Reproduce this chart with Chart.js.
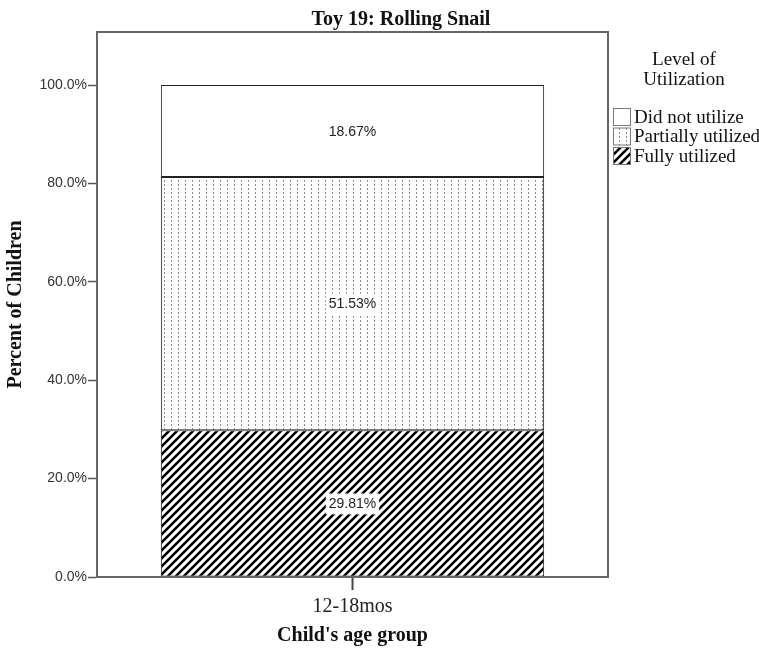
<!DOCTYPE html>
<html>
<head>
<meta charset="utf-8">
<script src="https://cdn.jsdelivr.net/npm/chart.js@4/dist/chart.umd.min.js"></script>
<style>
	html, body { margin: 0; padding: 0; background: #fff; }
	#wrap { width: 759px; height: 648px; }
</style>
</head>
<body>
<div id="wrap"><canvas id="chart" width="759" height="648"></canvas></div>
<script>
// chart values
const categories = ['12-18mos'];
const seriesLabels = ['Fully utilized', 'Partially utilized', 'Did not utilize'];
const fullyValues = [29.81];
const partialValues = [51.53];
const notValues = [18.67];
const yTickValues = [0, 20, 40, 60, 80, 100];
const chartTitle = 'Toy 19: Rolling Snail';
const legendTitle = ['Level of', 'Utilization'];

const serif = '"Liberation Serif", "DejaVu Serif", serif';
const sans = '"Liberation Sans", Arial, sans-serif';

const canvas = document.getElementById('chart');
const ctx = canvas.getContext('2d');

// diagonal hatch for "Fully utilized"
function hatchPattern () {
	const c = document.createElement('canvas');
	c.width = 8;
	c.height = 8;
	const x = c.getContext('2d');
	x.fillStyle = '#fff';
	x.fillRect(0, 0, 8, 8);
	x.strokeStyle = '#000';
	x.lineWidth = 2.6;
	x.beginPath();
	x.moveTo(-2, 10); x.lineTo(10, -2);
	x.moveTo(-6, 6); x.lineTo(6, -6);
	x.moveTo(2, 14); x.lineTo(14, 2);
	x.stroke();
	return ctx.createPattern(c, 'repeat');
}

// columns of little dashes for "Partially utilized"
function dotPattern () {
	const c = document.createElement('canvas');
	c.width = 7;
	c.height = 4;
	const x = c.getContext('2d');
	x.fillStyle = '#fff';
	x.fillRect(0, 0, 7, 4);
	x.fillStyle = '#8a8a8a';
	x.fillRect(3, 0, 1, 2);
	return ctx.createPattern(c, 'repeat');
}

const fills = [hatchPattern(), dotPattern(), '#ffffff'];

const frame = {
	id: 'frame',
	afterDraw (chart) {
		const a = chart.chartArea;
		const c = chart.ctx;
		c.save();
		c.strokeStyle = '#666';
		c.lineWidth = 2;
		c.strokeRect(a.left, a.top, a.right - a.left, a.bottom - a.top);
		// title sits a little right of the plot centre, as in the source
		c.fillStyle = '#111';
		c.font = 'bold 20px ' + serif;
		c.textAlign = 'center';
		c.textBaseline = 'middle';
		c.fillText(chartTitle, 401, 20);
		c.restore();
	}
};

const segmentLabels = {
	id: 'segmentLabels',
	afterDatasetsDraw (chart) {
		const c = chart.ctx;
		c.save();
		c.font = '14px ' + sans;
		c.textAlign = 'center';
		c.textBaseline = 'middle';
		chart.data.datasets.forEach((ds, i) => {
			const meta = chart.getDatasetMeta(i);
			meta.data.forEach((el, j) => {
				const p = el.getProps(['x', 'y', 'base'], true);
				const cy = (p.y + p.base) / 2;
				const text = ds.data[j].toFixed(2) + '%';
				const w = c.measureText(text).width;
				c.fillStyle = '#fff';
				c.fillRect(p.x - w / 2 - 3, cy - 10, w + 6, 21);
				c.fillStyle = '#222';
				c.fillText(text, p.x, cy + 1);
			});
		});
		c.restore();
	}
};

const sideLegend = {
	id: 'sideLegend',
	afterDraw (chart) {
		const c = chart.ctx;
		const x0 = chart.chartArea.right + 5;
		c.save();
		c.fillStyle = '#111';
		c.font = '19px ' + serif;
		c.textAlign = 'center';
		c.textBaseline = 'middle';
		legendTitle.forEach((t, i) => c.fillText(t, 684, 60 + i * 20));
		c.textAlign = 'left';
		const items = chart.data.datasets.slice().reverse();
		items.forEach((ds, i) => {
			const y = 108 + i * 19.5;
			c.fillStyle = ds.backgroundColor;
			c.fillRect(x0, y, 18, 18);
			c.strokeStyle = '#777';
			c.lineWidth = 1;
			c.strokeRect(x0 + 0.5, y + 0.5, 17, 17);
			c.fillStyle = '#111';
			c.fillText(ds.label, x0 + 21, y + 10);
		});
		c.restore();
	}
};

const datasets = [fullyValues, partialValues, notValues].map((vals, i) => ({
	label: seriesLabels[i],
	data: vals,
	backgroundColor: fills[i],
	borderColor: '#222',
	borderWidth: 1,
	borderSkipped: false,
	barPercentage: 0.75,
	categoryPercentage: 1
}));

new Chart(canvas, {
	type: 'bar',
	data: { labels: categories, datasets: datasets },
	options: {
		responsive: false,
		animation: false,
		layout: { padding: { left: 0, top: 32, right: 151, bottom: 0 } },
		plugins: {
			legend: { display: false },
			tooltip: { enabled: false },
			title: { display: false }
		},
		scales: {
			x: {
				stacked: true,
				afterFit (scale) { scale.height = 71; },
				grid: { drawOnChartArea: false, offset: false, tickLength: 13, color: '#444', tickWidth: 2 },
				border: { color: '#444', width: 2 },
				ticks: { color: '#222', padding: 5, font: { family: serif, size: 20 } },
				title: {
					display: true,
					text: "Child's age group",
					color: '#111',
					font: { family: serif, size: 20, weight: 'bold', lineHeight: '24px' },
					padding: 0
				}
			},
			y: {
				stacked: true,
				min: 0,
				max: 110.8,
				afterFit (scale) { scale.width = 97; },
				afterBuildTicks (scale) { scale.ticks = yTickValues.map((v) => ({ value: v })); },
				grid: { drawOnChartArea: false, tickLength: 9, color: '#555', tickWidth: 1.5 },
				border: { color: '#444', width: 2 },
				ticks: {
					color: '#333',
					padding: 1,
					font: { family: sans, size: 14 },
					callback: (v) => v.toFixed(1) + '%'
				},
				title: {
					display: true,
					text: 'Percent of Children',
					color: '#111',
					font: { family: serif, size: 20, weight: 'bold', lineHeight: '32px' },
					padding: 0
				}
			}
		}
	},
	plugins: [frame, segmentLabels, sideLegend]
});
</script>
</body>
</html>
